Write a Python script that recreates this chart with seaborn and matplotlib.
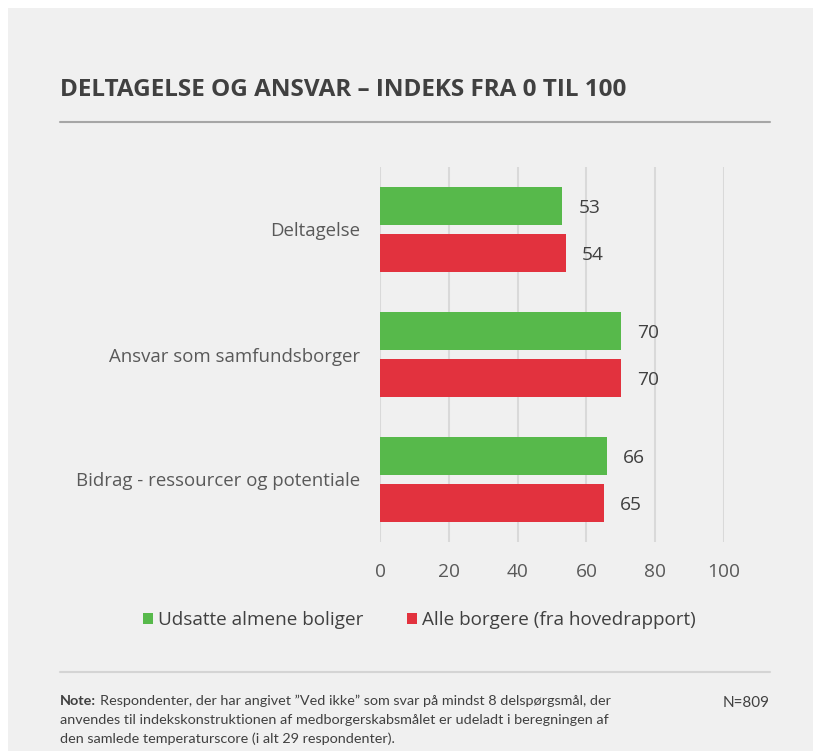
"""
Horizontal grouped bar chart: Deltagelse og ansvar - indeks fra 0 til 100.
"""

# External
import matplotlib
matplotlib.use("Agg")
import matplotlib.pyplot as plt
from matplotlib.lines import Line2D
from matplotlib.patches import Rectangle
import pandas as pd
import seaborn as sns


# Data
categories = [
    "Deltagelse",
    "Ansvar som samfundsborger",
    "Bidrag - ressourcer og potentiale",
]
series_names = ["Udsatte almene boliger", "Alle borgere (fra hovedrapport)"]
udsatte_values = [53, 70, 66]
alle_values = [54, 70, 65]
x_ticks = [0, 20, 40, 60, 80, 100]

title_text = "DELTAGELSE OG ANSVAR \u2013 INDEKS FRA 0 TIL 100"
note_bold = "Note:"
note_lines = [
    "Respondenter, der har angivet \u201dVed ikke\u201d som svar p\u00e5 mindst 8 "
    "delsp\u00f8rgsm\u00e5l, der",
    "anvendes til indekskonstruktionen af medborgerskabsm\u00e5let er udeladt "
    "i beregningen af",
    "den samlede temperaturscore (i alt 29 respondenter).",
]
n_text = "N=809"

GREEN = "#57b94b"
RED = "#e2323e"
BG = "#f0f0f0"
DARK = "#404040"
MID = "#595959"

W, H = 813, 751


def fx(px):
    return px / W


def fy(px):
    return 1 - px / H


def build_frame() -> pd.DataFrame:
    return pd.DataFrame({
        "kategori": categories * 2,
        "serie": [series_names[0]] * len(categories)
        + [series_names[1]] * len(categories),
        "indeks": udsatte_values + alle_values,
    })


def main():
    sns.set_style("white")
    plt.rcParams["font.family"] = ["Open Sans", "DejaVu Sans"]

    fig = plt.figure(figsize=(W / 100, H / 100), dpi=100, facecolor="white")
    fig.patches.append(Rectangle(
        (fx(8), 0), 1, 1 - 8 / H, transform=fig.transFigure,
        facecolor=BG, edgecolor="none", zorder=-10))

    ax = fig.add_axes([fx(380), fy(542), fx(724) - fx(380), fy(167) - fy(542)])
    ax.set_facecolor("none")

    sns.barplot(
        data=build_frame(), y="kategori", x="indeks", hue="serie",
        hue_order=series_names, palette=[GREEN, RED], orient="h",
        width=0.76, gap=0.2, linewidth=0, saturation=1, errorbar=None,
        ax=ax,
    )
    for container in ax.containers:
        labels = ax.bar_label(container, padding=11.5, fontsize=13.8,
                              color=DARK)
        # nudge the numbers down a little, like in the original
        for label in labels:
            label.xyann = (label.xyann[0], -1.5)

    ax.set_xlim(0, 100)
    ax.set_ylim(2.5, -0.5)
    ax.set_xticks(x_ticks)
    ax.xaxis.grid(True, color="#d9d9d9", linewidth=1.5)
    ax.yaxis.grid(False)
    ax.set_axisbelow(True)
    sns.despine(ax=ax, left=True, bottom=True)
    ax.set_xlabel("")
    ax.set_ylabel("")
    ax.tick_params(axis="x", length=0, pad=15, labelsize=13.8, labelcolor=MID)
    ax.tick_params(axis="y", length=0, pad=14, labelsize=13.4, labelcolor=MID)

    sns.move_legend(
        ax, "center", bbox_to_anchor=(fx(419), fy(620)),
        bbox_transform=fig.transFigure, ncol=2, frameon=False, title=None,
        handlelength=0.55, handleheight=0.55, handletextpad=0.25,
        columnspacing=2.3, fontsize=13.6, labelcolor=DARK,
    )

    # Title and rules
    fig.text(fx(60), fy(90), title_text, fontsize=17.5, fontweight="bold",
             family=["Liberation Sans Narrow", "Open Sans"], color=DARK,
             va="center", ha="left")
    fig.add_artist(Line2D([fx(60), fx(770)], [fy(122)] * 2,
                          transform=fig.transFigure, color="#a6a6a6",
                          linewidth=1.5))
    fig.add_artist(Line2D([fx(60), fx(770)], [fy(672)] * 2,
                          transform=fig.transFigure, color="#d4d4d4",
                          linewidth=1.5))

    # Note
    note_font = ["Lato", "DejaVu Sans"]
    bold = fig.text(fx(60), fy(705), note_bold, fontsize=10.4,
                    fontweight="bold", family=note_font, color=DARK,
                    va="baseline", ha="left")
    ax.annotate(note_lines[0], xy=(1, 0), xycoords=bold,
                xytext=(2.5, 0), textcoords="offset points",
                fontsize=10.4, family=note_font, color=DARK,
                va="bottom", ha="left", annotation_clip=False)
    for i, line in enumerate(note_lines[1:], start=1):
        fig.text(fx(60), fy(705 + 19 * i), line, fontsize=10.4,
                 family=note_font, color=DARK, va="baseline", ha="left")
    fig.text(fx(770), fy(703), n_text, fontsize=11, family=note_font,
             color=DARK, va="center", ha="right")

    fig.savefig("out.png", dpi=100, facecolor=fig.get_facecolor())


if __name__ == "__main__":
    main()
